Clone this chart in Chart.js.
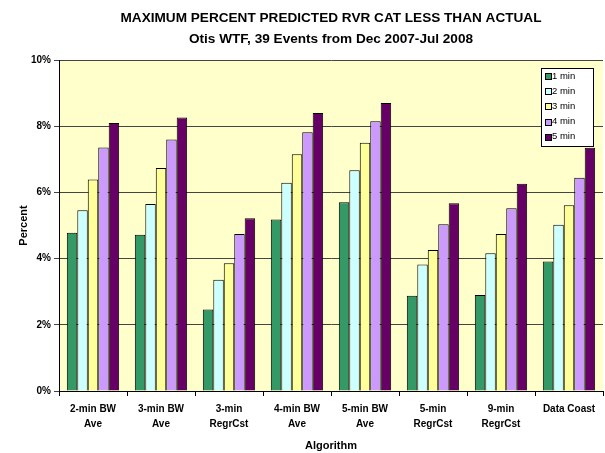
<!DOCTYPE html>
<html>
<head>
<meta charset="utf-8">
<script src="https://cdn.jsdelivr.net/npm/chart.js@4/dist/chart.umd.min.js"></script>
<style>
  html, body { margin: 0; padding: 0; background: #fff; }
  #wrap { width: 605px; height: 453px; }
</style>
</head>
<body>
<div id="wrap"><canvas id="chart" width="605" height="453"></canvas></div>
<script>
const categories = [
    ['2-min BW', 'Ave'], ['3-min BW', 'Ave'], ['3-min', 'RegrCst'], ['4-min BW', 'Ave'],
    ['5-min BW', 'Ave'], ['5-min', 'RegrCst'], ['9-min', 'RegrCst'], 'Data Coast'
];
const seriesNames = ['1 min', '2 min', '3 min', '4 min', '5 min'];
const min1 = [4.78, 4.72, 2.46, 5.18, 5.70, 2.88, 2.90, 3.91];
const min2 = [5.46, 5.65, 3.36, 6.29, 6.67, 3.82, 4.16, 5.02];
const min3 = [6.39, 6.74, 3.86, 7.15, 7.50, 4.26, 4.74, 5.61];
const min4 = [7.36, 7.60, 4.74, 7.82, 8.15, 5.04, 5.52, 6.44];
const min5 = [8.10, 8.26, 5.22, 8.40, 8.70, 5.67, 6.26, 7.35];
const colors = ['#339966', '#CCFFFF', '#FFFF99', '#CC99FF', '#660066'];

const FONT = 'Arial, "Liberation Sans", sans-serif';

// yellow plot background
const plotBg = {
    id: 'plotBg',
    beforeDraw(chart) {
        const { ctx, chartArea: a } = chart;
        ctx.save();
        ctx.fillStyle = '#FFFFCC';
        ctx.fillRect(a.left, a.top, a.right - a.left, a.bottom - a.top);
        ctx.restore();
    }
};

// legend box inside the plot, top right
const boxLegend = {
    id: 'boxLegend',
    afterDraw(chart) {
        const ctx = chart.ctx;
        const x = 541, y = 68, w = 52, h = 78;
        ctx.save();
        ctx.fillStyle = '#fff';
        ctx.fillRect(x, y, w, h);
        ctx.strokeStyle = '#000';
        ctx.lineWidth = 1;
        ctx.strokeRect(x + 0.5, y + 0.5, w, h);
        ctx.font = '9.5px ' + FONT;
        ctx.textBaseline = 'middle';
        chart.data.datasets.forEach((ds, i) => {
            const cy = y + 8 + i * 15.2;
            ctx.fillStyle = ds.backgroundColor;
            ctx.fillRect(x + 4, Math.round(cy - 3), 6, 6);
            ctx.strokeStyle = '#000';
            ctx.strokeRect(x + 4.5, Math.round(cy - 3) + 0.5, 6, 6);
            ctx.fillStyle = '#000';
            ctx.fillText(ds.label, x + 11, cy);
        });
        ctx.restore();
    }
};

const datasets = [min1, min2, min3, min4, min5].map((vals, i) => ({
    label: seriesNames[i],
    data: vals,
    backgroundColor: colors[i],
    borderColor: '#000',
    borderWidth: 1,
    categoryPercentage: 0.77,
    barPercentage: 1.0
}));

new Chart(document.getElementById('chart'), {
    type: 'bar',
    data: { labels: categories, datasets: datasets },
    plugins: [plotBg, boxLegend],
    options: {
        responsive: false,
        animation: false,
        layout: { padding: { left: 0, right: 2, top: 0, bottom: 0 } },
        plugins: {
            legend: { display: false },
            tooltip: { enabled: false },
            title: {
                display: true,
                fullSize: false,
                text: ['MAXIMUM PERCENT PREDICTED RVR CAT LESS THAN ACTUAL', 'Otis WTF, 39 Events from Dec 2007-Jul 2008'],
                color: '#000',
                font: { family: FONT, size: 13.6, weight: 'bold', lineHeight: 1.53 },
                padding: { top: 8, bottom: 10.4 }
            }
        },
        scales: {
            x: {
                afterFit: (s) => { s.height = 62; },
                grid: { display: true, drawOnChartArea: false, offset: true, color: '#000', tickLength: 5 },
                border: { color: '#000' },
                ticks: {
                    color: '#000', padding: 6, maxRotation: 0, autoSkip: false,
                    font: { family: FONT, size: 10, weight: 'bold', lineHeight: 1.5 }
                },
                title: {
                    display: true, text: 'Algorithm', color: '#000',
                    font: { family: FONT, size: 11, weight: 'bold' },
                    padding: { top: 2, bottom: 0 }
                }
            },
            y: {
                min: 0, max: 10,
                afterFit: (s) => { s.width = 59; },
                grid: { color: '#444', tickLength: 5 },
                border: { color: '#000' },
                ticks: {
                    stepSize: 2, color: '#000', padding: 3,
                    font: { family: FONT, size: 10, weight: 'bold' },
                    callback: (v) => v + '%'
                },
                title: {
                    display: true, text: 'Percent', color: '#000',
                    font: { family: FONT, size: 11, weight: 'bold' },
                    padding: { top: 17, bottom: 0 }
                }
            }
        }
    }
});
</script>
</body>
</html>
